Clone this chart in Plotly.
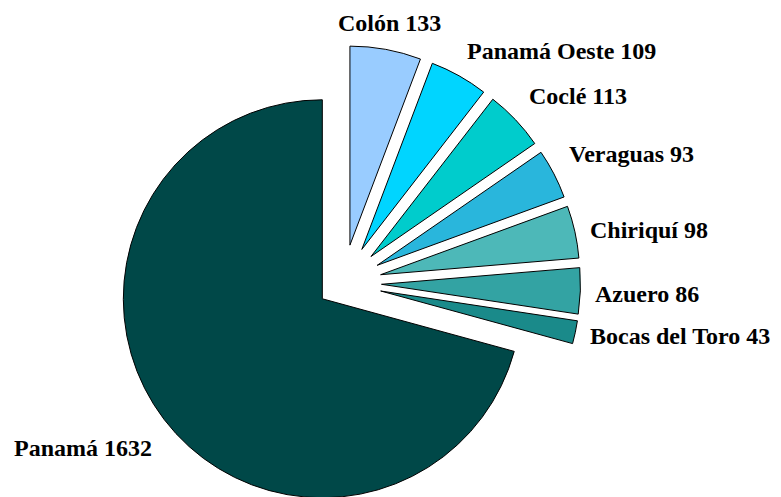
import numpy as np
import plotly.graph_objects as go

# %% Data
regions = ['Colón', 'Panamá Oeste', 'Coclé', 'Veraguas', 'Chiriquí', 'Azuero', 'Bocas del Toro', 'Panamá']
counts = [133, 109, 113, 93, 98, 86, 43, 1632]

# %% Style / layout
colors = ['#99CCFF', '#00D5FF', '#00CCCC', '#29B6DC', '#4DB8B8', '#33A3A3', '#1A8A8A', '#004848']
W, H = 781, 497
OFF = 8                      # page body margin of the html output
cx0, cy0 = 343 - OFF, 283 - OFF   # pie centre in px
R = 199                      # pie radius in px
explode = [38.5] * 7 + [26]  # how far each slice is pulled out, px

# label anchor points in px (left edge / vertical middle), Colón is centred
label_pos = [(389, 23), (465, 51), (527, 96), (567, 154), (588, 230),
             (593, 294), (588, 336), (12, 448)]
label_anchor = ['center'] + ['left'] * 7

# mid angle of each slice, clockwise from 12 o'clock
vals = np.array(counts, dtype=float)
frac = vals / vals.sum()
mids = (np.cumsum(frac) - frac / 2) * 2 * np.pi

fig = go.Figure()
for i in range(len(regions)):
    #each slice is its own pie so it can be exploded like the original
    cx = cx0 + explode[i] * np.sin(mids[i])
    cy = cy0 - explode[i] * np.cos(mids[i])
    fill = [colors[j] if j == i else 'rgba(0,0,0,0)' for j in range(len(regions))]
    edge = ['black' if j == i else 'rgba(0,0,0,0)' for j in range(len(regions))]
    fig.add_trace(go.Pie(labels=regions, values=counts,
                         sort=False, direction='clockwise', rotation=0,
                         marker=dict(colors=fill, line=dict(color=edge, width=1)),
                         textinfo='none', hoverinfo='label+value',
                         showlegend=False,
                         domain=dict(x=[max(0, (cx - R) / W), min(1, (cx + R) / W)],
                                     y=[max(0, 1 - (cy + R) / H), min(1, 1 - (cy - R) / H)])))

for name, val, (x, y), anc in zip(regions, counts, label_pos, label_anchor):
    fig.add_annotation(x=(x - OFF) / W, y=1 - (y - OFF) / H, xref='paper', yref='paper',
                       text='<b>{} {}</b>'.format(name, val), showarrow=False,
                       xanchor=anc, yanchor='middle',
                       font=dict(family='Liberation Serif', size=24, color='black'))

fig.update_layout(width=W, height=H,
                  margin=dict(l=0, r=0, t=0, b=0),
                  paper_bgcolor='white', plot_bgcolor='white')

fig.write_html("out.html")
